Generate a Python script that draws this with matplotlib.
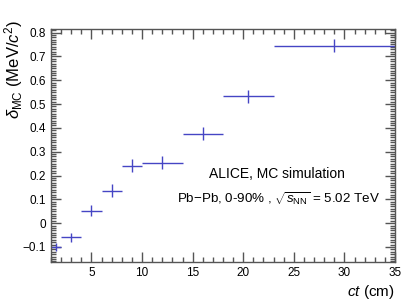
import numpy as np
import matplotlib
matplotlib.use('Agg')
import matplotlib.pyplot as plt
from matplotlib.ticker import MultipleLocator

plt.rcParams['font.family'] = ['Liberation Sans', 'DejaVu Sans']
plt.rcParams['mathtext.fontset'] = 'custom'
plt.rcParams['mathtext.rm'] = 'Liberation Sans'
plt.rcParams['mathtext.it'] = 'Liberation Sans:italic'

# ct bins (cm)
ct_low = [1, 2, 4, 6, 8, 10, 14, 18, 23]
ct_high = [2, 4, 6, 8, 10, 14, 18, 23, 35]
# mass shift from MC (MeV/c^2)
delta_mc = [-0.101, -0.060, 0.053, 0.137, 0.242, 0.254, 0.375, 0.532, 0.745]
delta_err = [0.017, 0.020, 0.023, 0.026, 0.028, 0.027, 0.028, 0.028, 0.027]

lo = np.array(ct_low, dtype=float)
hi = np.array(ct_high, dtype=float)
ct = 0.5 * (lo + hi)
ct_err = 0.5 * (hi - lo)

W, H = 415, 300
fig = plt.figure(figsize=(W / 100, H / 100), dpi=100)
ax = fig.add_axes([51 / W, 1 - 262 / H, 344 / W, 233 / H])

ax.errorbar(ct, delta_mc, xerr=ct_err, yerr=delta_err, fmt='none',
            ecolor='#4545c4', elinewidth=1.0, capsize=0)

ax.set_xlim(1, 35)
ax.set_ylim(-0.163, 0.815)

ax.xaxis.set_major_locator(MultipleLocator(5))
ax.xaxis.set_minor_locator(MultipleLocator(1))
ax.yaxis.set_major_locator(MultipleLocator(0.1))
ax.yaxis.set_minor_locator(MultipleLocator(0.01))
ax.tick_params(which='both', direction='in', top=True, right=True,
               labelsize=8.5, colors='#555555', labelcolor='black', width=1)
ax.tick_params(which='major', length=7)
ax.tick_params(which='minor', length=3.5)
ax.yaxis.set_major_formatter(plt.FuncFormatter(
    lambda v, p: '0' if abs(v) < 1e-9 else ('%g' % v).replace('-', '\u2212')))

for s in ax.spines.values():
    s.set_color('#555555')
    s.set_linewidth(1)

ax.set_xlabel(r'$ct$ (cm)', fontsize=11, loc='right')
ax.xaxis.set_label_coords(1.0, -0.09)
ax.set_ylabel(r'$\delta_{\rm MC}$ (MeV/$c^{2}$)', fontsize=12, loc='top')
ax.yaxis.set_label_coords(-0.075, 1.04)

fig.text(277 / W, 1 - 174 / H, 'ALICE, MC simulation', fontsize=10,
         ha='center', va='center')
fig.text(278 / W, 1 - 199 / H, r'Pb$-$Pb, 0-90% , $\sqrt{s_{\rm NN}}$ = 5.02 TeV',
         fontsize=9.6, ha='center', va='center')

fig.savefig('out.png', dpi=100)
